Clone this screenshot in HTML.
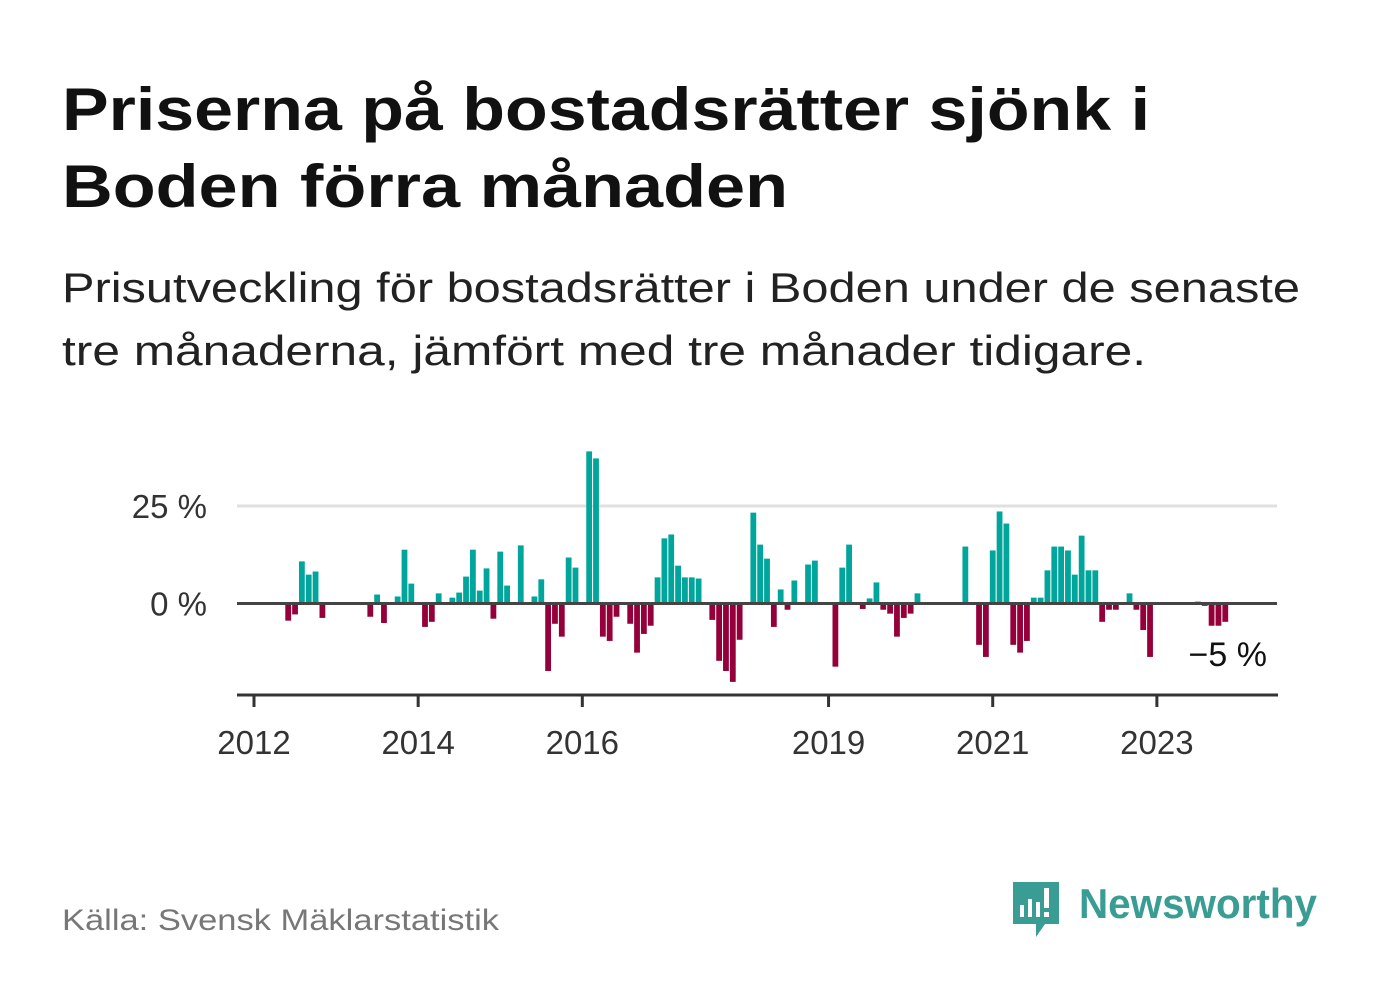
<!DOCTYPE html>
<html><head><meta charset="utf-8"><style>
html,body{margin:0;padding:0;background:#fff;}
svg{display:block;font-family:"Liberation Sans","DejaVu Sans",sans-serif;}
</style></head><body>
<svg id="chart" width="1382" height="999" viewBox="0 0 1382 999" xmlns="http://www.w3.org/2000/svg">
<text x="62" y="130" font-size="60" font-weight="bold" fill="#111" textLength="1088" lengthAdjust="spacingAndGlyphs">Priserna på bostadsrätter sjönk i</text>
<text x="62" y="207" font-size="60" font-weight="bold" fill="#111" textLength="726" lengthAdjust="spacingAndGlyphs">Boden förra månaden</text>
<text x="62" y="302" font-size="42" fill="#222" textLength="1238" lengthAdjust="spacingAndGlyphs">Prisutveckling för bostadsrätter i Boden under de senaste</text>
<text x="62" y="365" font-size="42" fill="#222" textLength="1084" lengthAdjust="spacingAndGlyphs">tre månaderna, jämfört med tre månader tidigare.</text>
<g id="plot"></g>
<text x="62" y="930" font-size="30" fill="#777" textLength="437" lengthAdjust="spacingAndGlyphs">Källa: Svensk Mäklarstatistik</text>
<g>
<path d="M1013 882 h46 v42 h-14 l-9 13 v-13 h-23 z" fill="#3a9d94"/>
<rect x="1020" y="905" width="4" height="12" fill="#fff"/><rect x="1028" y="899" width="4" height="18" fill="#fff"/><rect x="1036" y="902" width="4" height="15" fill="#fff"/><rect x="1044" y="888" width="5" height="20" fill="#fff"/><rect x="1044" y="912" width="5" height="5" fill="#fff"/>
<text x="1079" y="918" font-size="42" font-weight="bold" fill="#3a9d94" textLength="238" lengthAdjust="spacingAndGlyphs">Newsworthy</text>
</g>
</svg>
<script>
const values = [0,0,0,0,0,-4.4,-2.8,10.8,7.4,8.2,-3.7,0,0,0,0,0,0,-3.4,2.3,-5.0,0.3,1.8,13.8,5.1,0,-6.0,-4.7,2.6,0.3,1.5,2.8,6.9,13.8,3.3,9.0,-3.9,13.3,4.6,0,14.9,0,1.8,6.2,-17.3,-5.2,-8.5,11.8,9.2,0,39.0,37.2,-8.5,-9.6,-3.4,0,-5.2,-12.6,-7.8,-5.7,6.7,16.7,17.7,9.7,6.7,6.7,6.4,0,-4.2,-14.7,-17.3,-20.1,-9.3,0.3,23.3,15.1,11.5,-6.0,3.6,-1.6,5.9,0.3,10.0,11.0,0,0,-16.2,9.2,15.1,0,-1.4,1.3,5.4,-1.6,-2.6,-8.5,-3.7,-2.6,2.6,0,0,0,0,0,0,14.6,0,-10.6,-13.7,13.6,23.6,20.5,-10.6,-12.6,-9.6,1.5,1.5,8.5,14.6,14.6,13.6,7.4,17.4,8.5,8.5,-4.7,-1.6,-1.6,0,2.6,-1.6,-6.8,-13.7,0,0,0,0,0,0,0.5,-0.6,-5.7,-5.7,-4.7];
const startYear = 2012;
const xTickYears = [2012,2014,2016,2019,2021,2023];
const yTicks = [0,25];
const yTickLabels = ["0 %","25 %"];
const lastLabel = "−5 %";

const NS="http://www.w3.org/2000/svg";
const g=document.getElementById('plot');
const x0=254, monthW=6.84, y0=603.5, pxPer=3.9;
const xScale=m=>x0+m*monthW;
const yScale=v=>y0-v*pxPer;
function mk(tag,attrs){const e=document.createElementNS(NS,tag);for(const k in attrs)e.setAttribute(k,attrs[k]);g.appendChild(e);return e;}

yTicks.forEach((t,i)=>{
  if(t!==0){const l=mk('line',{x1:237,x2:1277,y1:yScale(t),y2:yScale(t),stroke:'#e0e0e0','stroke-width':3});
  
  }
  const tx=mk('text',{x:207,y:yScale(t)+12,'font-size':33,fill:'#333','text-anchor':'end'});
  tx.textContent=yTickLabels[i];
  
  
});
values.forEach((v,i)=>{
  if(v===0)return;
  const y=v>0?yScale(v):y0;
  const r=mk('rect',{x:xScale(i)-2.9,y:y,width:5.8,height:Math.abs(v)*pxPer,fill:v>0?'#00a59b':'#96003a'});
  
  
});
const zl=mk('line',{x1:237,x2:1277,y1:y0,y2:y0,stroke:'#444','stroke-width':3});


const ax=mk('line',{x1:237,x2:1278,y1:695,y2:695,stroke:'#333','stroke-width':3});


xTickYears.forEach(yr=>{
  const x=xScale((yr-startYear)*12);
  const t=mk('line',{x1:x,x2:x,y1:695,y2:707,stroke:'#333','stroke-width':3});
  
  
  const l=mk('text',{x:x,y:754,'font-size':33,fill:'#333','text-anchor':'middle'});
  l.textContent=yr;
  
  
});
const last=values[values.length-1];
const ll=mk('text',{x:1267,y:yScale(last)+44,'font-size':34,fill:'#111','text-anchor':'end'});
ll.textContent=lastLabel;


</script>
</body></html>
